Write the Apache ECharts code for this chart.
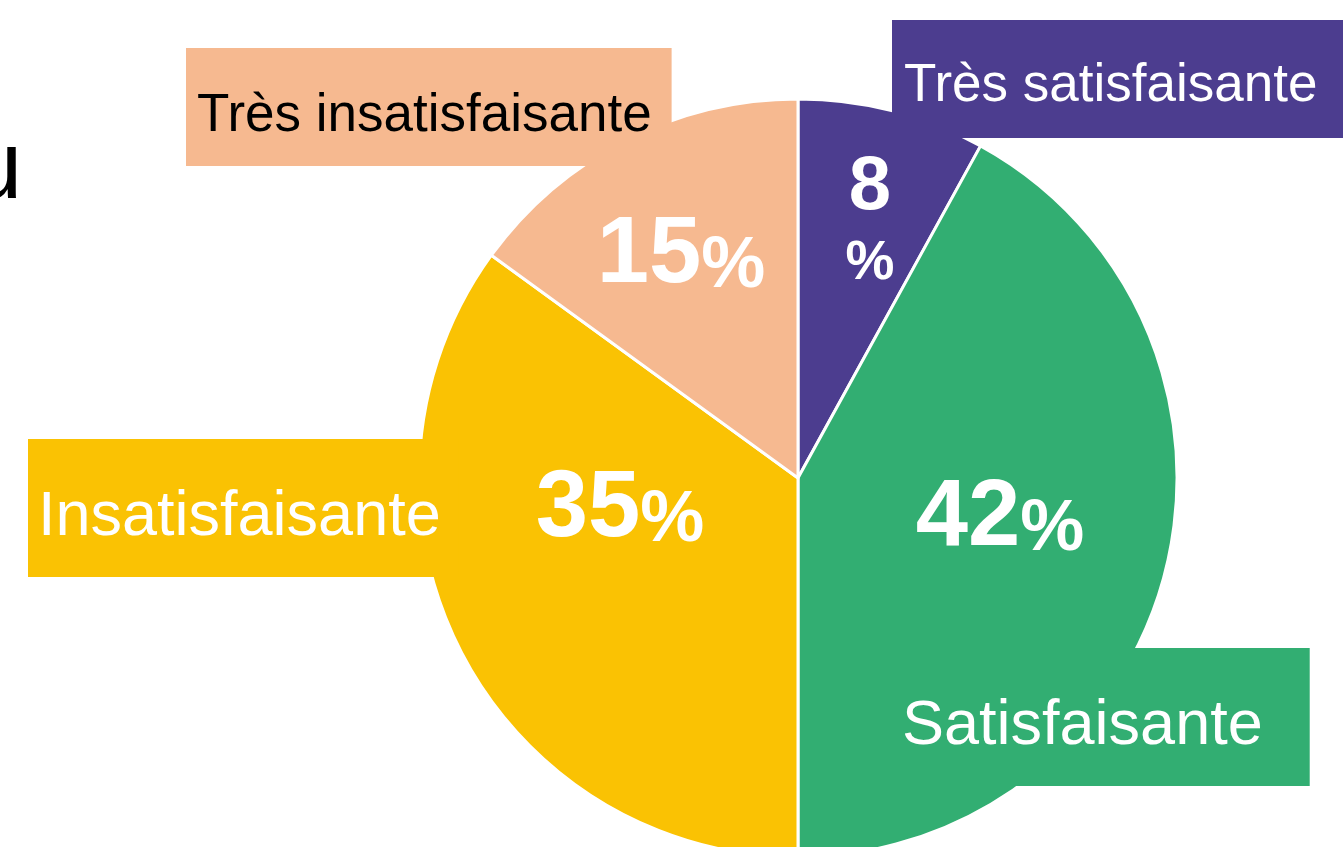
<!DOCTYPE html>
<html>
<head>
<meta charset="utf-8">
<script src="https://cdn.jsdelivr.net/npm/echarts@6/dist/echarts.min.js"></script>
<style>
  html, body { margin: 0; padding: 0; background: #fff; }
  #chart { width: 1343px; height: 847px; }
</style>
</head>
<body>
<div id="chart"></div>
<script>
// data
const categories = ['Très satisfaisante', 'Satisfaisante', 'Insatisfaisante', 'Très insatisfaisante'];
const values = [8, 42, 35, 15];

// styling
const colors = ['#4c3d8f', '#32ae72', '#fac203', '#f6b990'];
const FONT = '"Liberation Sans", Arial, sans-serif';

// where the percentage goes inside each slice (centre of the text)
const pctPos = [[870, 226], [1000, 519], [620, 510], [681, 256]];

// the boxed category labels: top-left corner, padding, font size, text colour
const boxes = [
  { x: 892, y: 20, pad: [40, 40, 25, 12], size: 53, color: '#fff' },
  { x: 885, y: 648, pad: [47, 47, 28, 17], size: 63, color: '#fff' },
  { x: 28, y: 439, pad: [47, 18, 28, 10], size: 63, color: '#fff' },
  { x: 186, y: 48, pad: [42, 20, 23, 11], size: 53, color: '#000' }
];

const chart = echarts.init(document.getElementById('chart'));

const pieData = categories.map((name, i) => ({
  name: name,
  value: values[i],
  itemStyle: { color: colors[i] }
}));

const option = {
  animation: false,
  backgroundColor: '#fff',
  graphic: [
    {
      // leftover of a title that is cut off at the left edge
      type: 'text',
      x: -31,
      y: 172,
      style: {
        text: 'u',
        fontSize: 96,
        fontFamily: FONT,
        fill: '#000',
        verticalAlign: 'middle'
      }
    }
  ],
  series: [
    {
      type: 'pie',
      center: [798, 478],
      radius: 379,
      startAngle: 90,
      clockwise: true,
      silent: true,
      itemStyle: { borderColor: '#fff', borderWidth: 3 },
      label: {
        show: true,
        position: 'inside',
        overflow: 'none',
        color: '#fff',
        fontFamily: FONT,
        fontWeight: 'bold',
        formatter: p => p.dataIndex === 0
          ? '{s|' + p.value + '}\n{sp|%}'
          : '{n|' + p.value + '}{p|%}',
        rich: {
          n: { fontSize: 94, fontWeight: 'bold', fontFamily: FONT, color: '#fff', lineHeight: 94, verticalAlign: 'bottom' },
          p: { fontSize: 72, fontWeight: 'bold', fontFamily: FONT, color: '#fff', lineHeight: 80, verticalAlign: 'bottom' },
          s: { fontSize: 76, fontWeight: 'bold', fontFamily: FONT, color: '#fff', lineHeight: 76, align: 'center' },
          sp: { fontSize: 55, fontWeight: 'bold', fontFamily: FONT, color: '#fff', lineHeight: 76, align: 'center' }
        }
      },
      labelLine: { show: false },
      labelLayout: p => ({
        x: pctPos[p.dataIndex][0],
        y: pctPos[p.dataIndex][1],
        align: 'center',
        verticalAlign: 'middle'
      }),
      data: pieData
    },
    {
      // same slices again, invisible, only to carry the boxed labels
      type: 'pie',
      center: [798, 478],
      radius: 379,
      startAngle: 90,
      silent: true,
      itemStyle: { color: 'transparent', borderWidth: 0 },
      label: {
        show: true,
        position: 'inside',
        overflow: 'none',
        formatter: '{b}',
        fontFamily: FONT
      },
      labelLine: { show: false },
      labelLayout: p => ({
        x: boxes[p.dataIndex].x,
        y: boxes[p.dataIndex].y,
        align: 'left',
        verticalAlign: 'top'
      }),
      data: categories.map((name, i) => ({
        name: name,
        value: values[i],
        label: {
          color: boxes[i].color,
          fontSize: boxes[i].size,
          lineHeight: boxes[i].size,
          backgroundColor: colors[i],
          padding: boxes[i].pad
        }
      }))
    }
  ]
};

chart.setOption(option);
window.addEventListener('resize', () => chart.resize());
</script>
</body>
</html>
